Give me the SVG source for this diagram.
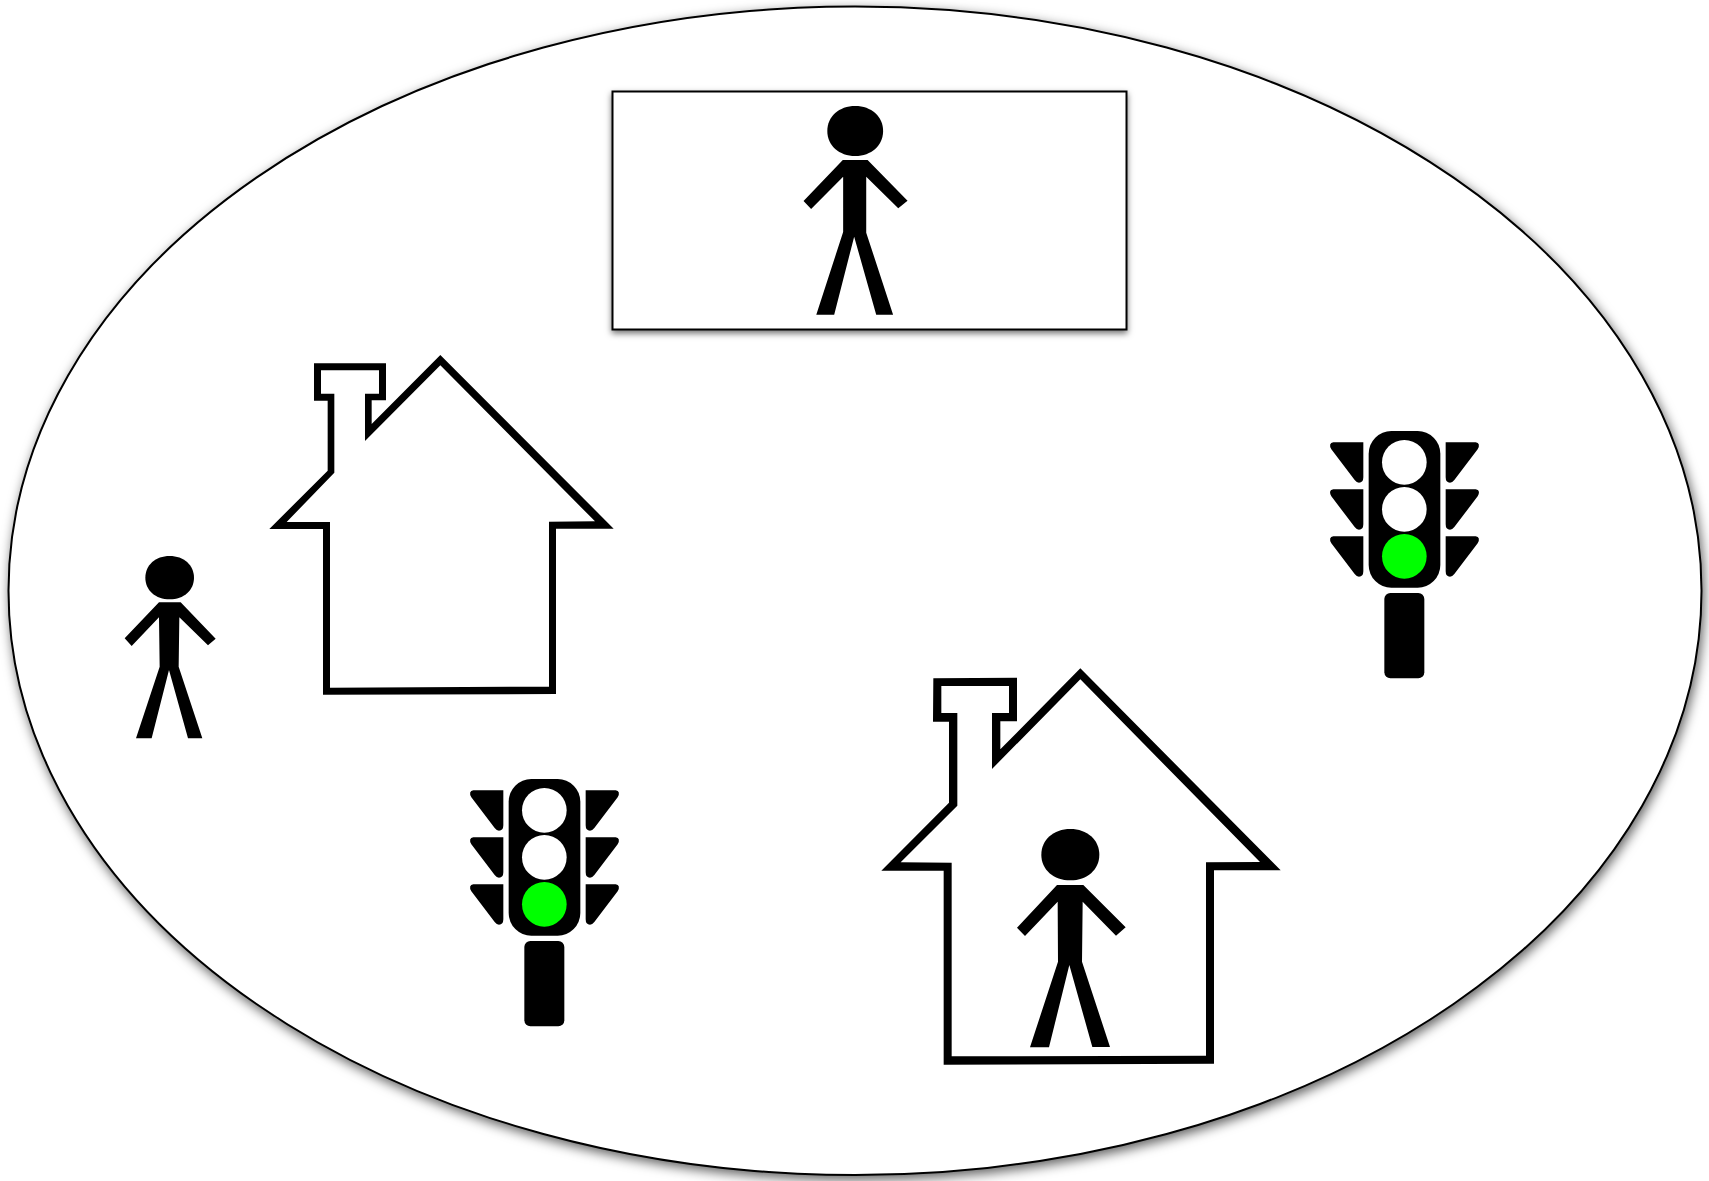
<svg xmlns="http://www.w3.org/2000/svg" xmlns:xlink="http://www.w3.org/1999/xlink" width="1709" height="1181" viewBox="0 0 1709 1181">
<style>
.ink{fill:#000}
.outline{fill:#000;fill-rule:evenodd}
.frame{fill:#fff;stroke:#000;stroke-width:2}
.lamp{fill:#fff}
.go{fill:#00ff00}
</style>
<defs>
<filter id="sh" x="-5%" y="-5%" width="110%" height="112%">
<feDropShadow dx="2" dy="4" stdDeviation="6" flood-color="#000" flood-opacity="0.62"/>
</filter>
<filter id="shb" x="-5%" y="-5%" width="110%" height="115%">
<feDropShadow dx="0" dy="3" stdDeviation="3" flood-color="#000" flood-opacity="0.55"/>
</filter>
<path id="head" d="M-1,0C-1,-.58-.58,-1,0,-1C.58,-1,1,-.58,1,0C1,.58,.58,1,0,1C-.58,1-1,.58-1,0Z"/>
<g id="light">
<rect class="ink" x="176" y="33" width="215" height="470" rx="68"/>
<circle class="lamp" cx="283" cy="127" r="67"/>
<circle class="lamp" cx="283" cy="268" r="67"/>
<circle class="go" cx="283" cy="409" r="67"/>
<rect class="ink" x="223" y="519" width="120" height="256" rx="18"/>
<g id="wings">
<path id="wing" class="ink" d="M70,67H160V172Q160,188 147,188Q140,188 134,180L64,88Q54,70 70,67Z"/>
<use xlink:href="#wing" href="#wing" y="141"/>
<use xlink:href="#wing" href="#wing" y="282"/>
</g>
<use xlink:href="#wings" href="#wings" transform="translate(567,0) scale(-1,1)"/>
</g>
</defs>
<rect width="1709" height="1181" fill="#fff"/>
<g id="boundary"><ellipse class="frame" cx="855" cy="590.800" rx="846.500" ry="584.300" filter="url(#sh)"/></g>
<g id="box"><rect class="frame" x="612.500" y="91.500" width="514" height="238" filter="url(#shb)"/></g>
<g id="person-box" transform="translate(600,80) scale(.3444,.33333)">
<use xlink:href="#head" href="#head" class="ink" transform="translate(741,153) scale(81,75)"/>
<path class="ink" d="M705,240H777L893,362L866,385L773,290V458L851,704H802L738,470L680,704H628L706,456V290L613,387L591,363Z"/>
</g>
<g id="person-outside" transform="translate(110,540) scale(.33333)">
<use xlink:href="#head" href="#head" class="ink" transform="translate(179,113) scale(73,65)"/>
<path class="ink" d="M147,187H212L317,296L294,316L208,232L206,380L277,595H234L177,390L125,595H78L149,380L147,232L65,318L44,295Z"/>
</g>
<g id="house-empty" transform="translate(260,350) scale(.33333)">
<path class="outline" d="M162,40H378V151H335V222L541,15L1061,536H888V1032L189,1034V537H28L203,362V152H162ZM183,61V131H223V368L80,516H210V1013L867,1010V515L1005,514L541,46L315,273V131H357V61Z"/>
</g>
<g id="house-occupied" transform="translate(870,660) scale(.33333)">
<path class="outline" d="M190,55L441,53V184H391V268L631,25L1232,631H1032V1211L221,1214V632H34L237,428V185H189ZM214,78V159H262V437L92,607L245,608V1189L1008,1187V607L1170,606L631,58L366,327V159H417V78Z"/>
<use xlink:href="#head" href="#head" class="ink" transform="translate(601,584) scale(87,77)"/>
<path class="ink" d="M561,675H640L767,802L738,827L638,725L636,905L720,1161H667L598,915L537,1162H480L564,905L563,725L465,828L441,803Z"/>
</g>
<g id="light-right" transform="translate(1310,420) scale(.33333)"><use xlink:href="#light" href="#light"/></g>
<g id="light-left" transform="translate(450,768) scale(.33333)"><use xlink:href="#light" href="#light"/></g>
<g id="connectors"/>
</svg>
